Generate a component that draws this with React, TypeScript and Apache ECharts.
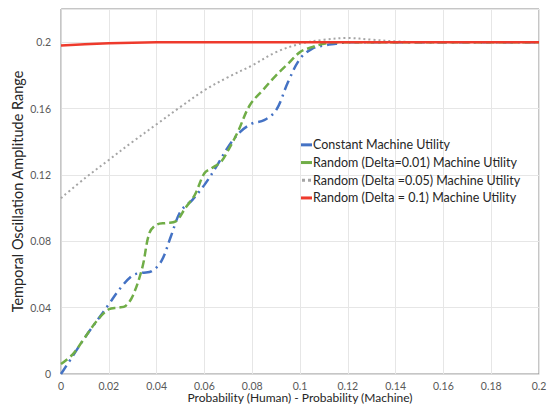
import React, { useEffect, useRef } from "react";
import * as echarts from "echarts";

// x positions (probability difference) and amplitude values per series
const constantX = [0, 0.005, 0.01, 0.015, 0.02, 0.025, 0.03, 0.034, 0.038, 0.042, 0.046, 0.05, 0.055, 0.06, 0.065, 0.07, 0.075, 0.08, 0.085, 0.09, 0.095, 0.1, 0.105, 0.11, 0.115, 0.12, 0.14, 0.16, 0.18, 0.2];
const constantY = [0, 0.011, 0.022, 0.032, 0.042, 0.052, 0.0595, 0.061, 0.062, 0.068, 0.083, 0.098, 0.105, 0.114, 0.125, 0.137, 0.146, 0.151, 0.153, 0.159, 0.176, 0.19, 0.196, 0.198, 0.199, 0.2, 0.2, 0.2, 0.2, 0.2];

const delta001X = [0, 0.005, 0.01, 0.015, 0.02, 0.024, 0.027, 0.03, 0.034, 0.037, 0.04, 0.044, 0.048, 0.052, 0.056, 0.06, 0.063, 0.067, 0.07, 0.074, 0.079, 0.085, 0.09, 0.095, 0.1, 0.105, 0.11, 0.115, 0.12, 0.14, 0.16, 0.18, 0.2];
const delta001Y = [0.006, 0.012, 0.022, 0.032, 0.039, 0.04, 0.041, 0.047, 0.064, 0.085, 0.09, 0.091, 0.092, 0.1, 0.108, 0.121, 0.124, 0.128, 0.135, 0.146, 0.162, 0.172, 0.18, 0.187, 0.194, 0.197, 0.199, 0.2, 0.2, 0.2, 0.2, 0.2, 0.2];

const delta005X = [0, 0.01, 0.02, 0.03, 0.04, 0.05, 0.06, 0.07, 0.08, 0.09, 0.1, 0.11, 0.12, 0.13, 0.14, 0.15, 0.16, 0.18, 0.2];
const delta005Y = [0.106, 0.118, 0.129, 0.14, 0.1505, 0.161, 0.171, 0.179, 0.186, 0.194, 0.199, 0.2015, 0.2025, 0.2015, 0.2005, 0.2, 0.2, 0.2, 0.2];

const delta01X = [0, 0.01, 0.02, 0.03, 0.04, 0.06, 0.08, 0.1, 0.12, 0.14, 0.16, 0.18, 0.2];
const delta01Y = [0.198, 0.1987, 0.1993, 0.1997, 0.1999, 0.2, 0.2, 0.2, 0.2, 0.2, 0.2, 0.2, 0.2];

const seriesNames = [
  "Constant Machine Utility",
  "Random (Delta=0.01) Machine Utility",
  "Random (Delta =0.05) Machine Utility",
  "Random (Delta = 0.1) Machine Utility",
];

const xTitle = "Probability (Human) - Probability (Machine)";
const yTitle = "Temporal Oscillation Amplitude Range";

const zip = (xs: number[], ys: number[]) => xs.map((x, i) => [x, ys[i]]);

const FONT = "Lato, 'Open Sans', sans-serif";
const DOTS_ICON = "path://M0,0h3v3h-3z M6,0h3v3h-3z";

export default function App() {
  const ref = useRef<HTMLDivElement>(null);

  useEffect(() => {
    if (!ref.current) return;
    const chart = echarts.init(ref.current, undefined, { renderer: "svg" });
    chart.setOption({
      animation: false,
      backgroundColor: "#ffffff",
      grid: {
        left: 61,
        right: 9,
        top: 9,
        bottom: 33,
        outerBoundsMode: "none",
        containLabel: false,
        show: true,
        borderColor: "#8c8c8c",
        borderWidth: 1,
      },
      legend: {
        orient: "vertical",
        left: 296,
        top: 132,
        itemGap: 2,
        itemWidth: 11,
        itemHeight: 3,
        textStyle: { fontFamily: FONT, fontSize: 12.5, color: "#262626", padding: [0, 0, 0, -4], lineHeight: 15.7 },
        data: [
          { name: seriesNames[0], icon: "rect" },
          { name: seriesNames[1], icon: "rect" },
          { name: seriesNames[2], icon: DOTS_ICON },
          { name: seriesNames[3], icon: "rect" },
        ],
      },
      xAxis: {
        type: "value",
        min: 0,
        max: 0.2,
        interval: 0.02,
        name: xTitle,
        nameLocation: "middle",
        nameGap: 17.5,
        nameMoveOverlap: false,
        nameTextStyle: { fontFamily: FONT, fontSize: 12, lineHeight: 12, color: "#262626" },
        axisLine: { show: true, lineStyle: { color: "#d9d9d9" } },
        axisTick: { show: false },
        axisLabel: { fontFamily: FONT, fontSize: 10.5, lineHeight: 10, color: "#595959", margin: 6.5 },
        splitLine: { show: true, lineStyle: { color: "#e6e6e6" } },
      },
      yAxis: {
        type: "value",
        min: 0,
        max: 0.22,
        interval: 0.04,
        name: yTitle,
        nameLocation: "middle",
        nameGap: 36,
        nameMoveOverlap: false,
        nameTextStyle: { fontFamily: FONT, fontSize: 14.5, color: "#262626" },
        axisLine: { show: true, lineStyle: { color: "#d9d9d9" } },
        axisTick: { show: false },
        axisLabel: {
          fontFamily: FONT,
          fontSize: 10.5,
          color: "#595959",
          margin: 10,
          formatter: (v: number) => (v > 0.21 ? "" : String(Math.round(v * 100) / 100)),
        },
        splitLine: { show: true, lineStyle: { color: "#e6e6e6" } },
      },
      series: [
        {
          name: seriesNames[0],
          type: "line",
          data: zip(constantX, constantY),
          smooth: 0.35,
          showSymbol: false,
          symbol: "none",
          color: "#4472c4",
          lineStyle: { width: 2.5, color: "#4472c4", type: [10, 5, 2, 5] },
        },
        {
          name: seriesNames[1],
          type: "line",
          data: zip(delta001X, delta001Y),
          smooth: 0.35,
          showSymbol: false,
          symbol: "none",
          color: "#70ad47",
          lineStyle: { width: 2.5, color: "#70ad47", type: [8, 4] },
        },
        {
          name: seriesNames[2],
          type: "line",
          data: zip(delta005X, delta005Y),
          smooth: 0.35,
          showSymbol: false,
          symbol: "none",
          color: "#a5a5a5",
          lineStyle: { width: 2, color: "#a5a5a5", type: [2, 3] },
        },
        {
          name: seriesNames[3],
          type: "line",
          data: zip(delta01X, delta01Y),
          smooth: 0.35,
          showSymbol: false,
          symbol: "none",
          color: "#ee3a2c",
          lineStyle: { width: 2.5, color: "#ee3a2c" },
        },
      ],
    });
    return () => chart.dispose();
  }, []);

  return <div ref={ref} style={{ width: 548, height: 407, position: "absolute", left: 0, top: 0 }} />;
}
